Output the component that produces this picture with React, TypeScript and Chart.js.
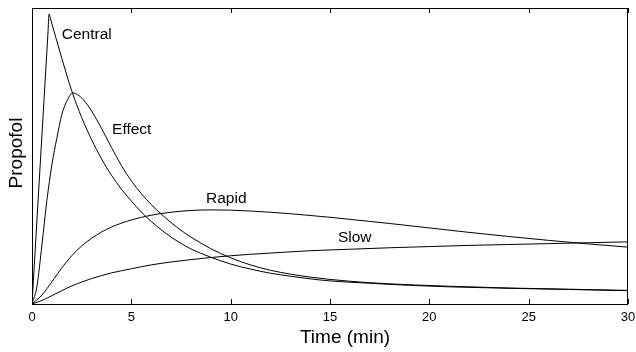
import React, { useEffect, useRef } from "react";
import { Chart, registerables } from "chart.js";

Chart.register(...registerables);

const FONT = "'Liberation Sans', Arial, Helvetica, sans-serif";

const xTicks = [0, 5, 10, 15, 20, 25, 30];

const centralTime = [0, 0.4, 0.8, 0.86, 0.92, 1.2, 1.5, 2, 2.5, 3, 3.5, 4, 4.5, 5, 5.5, 6, 6.5, 7, 7.5, 8, 9, 10, 11, 12, 13, 14, 15, 17, 19, 21, 24, 27, 30];
const centralLevel = [0, 45.6, 91.2, 98, 96.6, 90, 83, 72, 63, 55.5, 49, 43.5, 38.8, 34.8, 31.1, 27.9, 25.1, 22.6, 20.5, 18.6, 15.8, 13.5, 11.8, 10.4, 9.4, 8.5, 7.8, 7, 6.3, 5.8, 5.3, 4.9, 4.5];

const effectTime = [0, 0.25, 0.5, 0.75, 1, 1.25, 1.5, 1.75, 2.06, 2.3, 2.6, 3, 3.5, 4, 4.5, 5, 5.5, 6, 6.5, 7, 7.5, 8, 9, 10, 11, 12, 13, 14, 15, 17, 19, 21, 24, 27, 30];
const effectLevel = [0, 6, 20, 35, 47, 56, 64, 68.5, 71.3, 70.7, 68.9, 65.2, 59.3, 52.9, 46.8, 41.6, 37.3, 33.6, 30.4, 27.5, 24.9, 22.6, 18.7, 15.6, 13.2, 11.4, 10.1, 9.1, 8.3, 7.2, 6.5, 6, 5.4, 5, 4.6];

const rapidTime = [0, 0.5, 1, 1.5, 2, 2.5, 3, 3.5, 4, 4.5, 5, 6, 7, 8, 9, 10, 11, 12, 13, 14, 15, 16, 17, 18, 20, 22, 24, 26, 28, 30];
const rapidLevel = [0, 3, 7.5, 12.2, 16.3, 19.6, 22.2, 24.3, 26, 27.3, 28.4, 30, 31, 31.6, 31.8, 31.7, 31.4, 31, 30.5, 29.9, 29.3, 28.6, 27.9, 27.2, 25.7, 24.2, 22.8, 21.5, 20.3, 19.2];

const slowTime = [0, 0.5, 1, 1.5, 2, 2.5, 3, 3.5, 4, 5, 6, 7, 8, 9, 10, 11, 12, 14, 16, 18, 20, 22, 24, 26, 28, 30];
const slowLevel = [0, 1.2, 2.8, 4.5, 6.1, 7.4, 8.6, 9.6, 10.5, 11.9, 13.2, 14.2, 15, 15.7, 16.3, 16.8, 17.2, 18, 18.5, 19, 19.4, 19.8, 20.1, 20.4, 20.7, 21];

const curveNames = ["Central", "Effect", "Rapid", "Slow"];
const labelTime = [1.5, 4.03, 8.76, 15.4];
const labelLevel = [90.9, 58.8, 35.5, 22.3];

const xTitle = "Time (min)";
const yTitle = "Propofol";

const toPoints = (t: number[], v: number[]) => t.map((x, i) => ({ x, y: v[i] }));

const framePlugin = {
  id: "frame",
  afterDraw(chart: any) {
    const { ctx, chartArea: a, scales } = chart;
    const xs = scales.x;
    const ys = scales.y;
    ctx.save();
    ctx.strokeStyle = "#000";
    ctx.lineWidth = 1;
    ctx.strokeRect(Math.round(a.left) + 0.5, Math.round(a.top) + 0.5, Math.round(a.right - a.left) - 1, Math.round(a.bottom - a.top));
    xTicks.forEach((t) => {
      const px = Math.round(xs.getPixelForValue(t)) + 0.5;
      ctx.beginPath();
      ctx.moveTo(px, a.bottom);
      ctx.lineTo(px, a.bottom - 5);
      ctx.moveTo(px, a.top);
      ctx.lineTo(px, a.top + 5);
      ctx.stroke();
    });
    ctx.fillStyle = "#000";
    ctx.font = `15.5px ${FONT}`;
    ctx.textAlign = "left";
    ctx.textBaseline = "middle";
    curveNames.forEach((n, i) => {
      ctx.fillText(n, xs.getPixelForValue(labelTime[i]), ys.getPixelForValue(labelLevel[i]));
    });
    ctx.font = `19px ${FONT}`;
    ctx.textAlign = "center";
    ctx.textBaseline = "middle";
    ctx.fillText(xTitle, 345, 338);
    ctx.save();
    ctx.translate(17, 153);
    ctx.rotate(-Math.PI / 2);
    ctx.fillText(yTitle, 0, 0);
    ctx.restore();
    ctx.restore();
  },
};

export default function App() {
  const ref = useRef<HTMLCanvasElement | null>(null);
  useEffect(() => {
    if (!ref.current) return;
    const line = (t: number[], v: number[]) => ({
      data: toPoints(t, v),
      borderColor: "#000",
      borderWidth: 1,
      pointRadius: 0,
      fill: false,
      cubicInterpolationMode: "monotone",
    });
    const chart = new Chart(ref.current, {
      type: "line",
      data: {
        datasets: [
          line(centralTime, centralLevel),
          line(effectTime, effectLevel),
          line(rapidTime, rapidLevel),
          line(slowTime, slowLevel),
        ] as any,
      },
      options: {
        animation: false,
        responsive: false,
        layout: { padding: { top: 8, right: 8, left: 32, bottom: 0 } },
        plugins: { legend: { display: false }, tooltip: { enabled: false } },
        scales: {
          x: {
            type: "linear",
            min: 0,
            max: 30,
            ticks: { stepSize: 5, padding: 6, color: "#000", font: { size: 13, family: FONT } },
            grid: { display: false, drawTicks: false },
            border: { display: false },
            afterFit(s: any) {
              s.height = 48;
              s.paddingLeft = 0;
              s.paddingRight = 0;
            },
          },
          y: {
            display: false,
            min: 0,
            max: 100,
          },
        },
      } as any,
      plugins: [framePlugin],
    });
    return () => chart.destroy();
  }, []);
  return (
    <canvas
      ref={ref}
      width={636}
      height={352}
      style={{ position: "fixed", left: 0, top: 0, width: 636, height: 352 }}
    />
  );
}
